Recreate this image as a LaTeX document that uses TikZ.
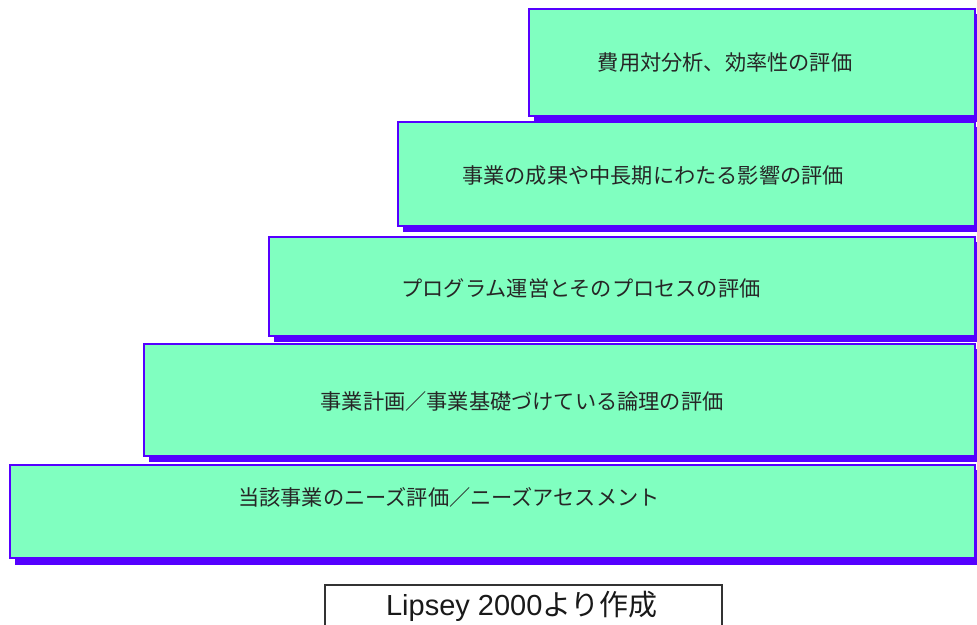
\documentclass[tikz,border=0pt]{standalone}
\usepackage{fontspec}
\newfontfamily\cjk{Noto Sans CJK JP}
\newfontfamily\lib{Liberation Sans}
\definecolor{mint}{HTML}{80FFC0}
\definecolor{edge}{HTML}{5500FF}
\begin{document}
\begin{tikzpicture}[x=1pt,y=-1pt,
  stepbox/.style={fill=mint,draw=edge,line width=2pt},
  shadowbox/.style={fill=edge},
  lab/.style={font=\cjk\fontsize{21.2}{25}\selectfont,text=black!85,inner sep=0pt}]
\useasboundingbox (0,0) rectangle (977,624);
% shadows
\fill[shadowbox] (534,14) rectangle (981,122);
\fill[shadowbox] (403,127) rectangle (981,232);
\fill[shadowbox] (274,242) rectangle (981,342);
\fill[shadowbox] (149,349) rectangle (981,462);
\fill[shadowbox] (15,470) rectangle (981,565);
% boxes
\draw[stepbox] (529,9) rectangle (975,116);
\draw[stepbox] (398,122) rectangle (975,226);
\draw[stepbox] (269,237) rectangle (975,336);
\draw[stepbox] (144,344) rectangle (975,456);
\draw[stepbox] (10,465) rectangle (975,558);
% labels
\node[lab] (t1) at (725,62) {費用対分析、効率性の評価};
\node[lab] (t2) at (653,176) {事業の成果や中長期にわたる影響の評価};
\node[lab] (t3) at (581,288) {プログラム運営とそのプロセスの評価};
\node[lab] (t4) at (522,401) {事業計画／事業基礎づけている論理の評価};
\node[lab] (t5) at (449,497) {当該事業のニーズ評価／ニーズアセスメント};
% source box
\draw[line width=1.5pt,draw=black!80,fill=white] (325,585) rectangle (722,630);
\node[inner sep=0pt,text=black!90] (src) at (522,606) {\fontsize{29}{34}\selectfont{\lib Lipsey 2000}{\cjk より作成}};
\end{tikzpicture}
\end{document}
